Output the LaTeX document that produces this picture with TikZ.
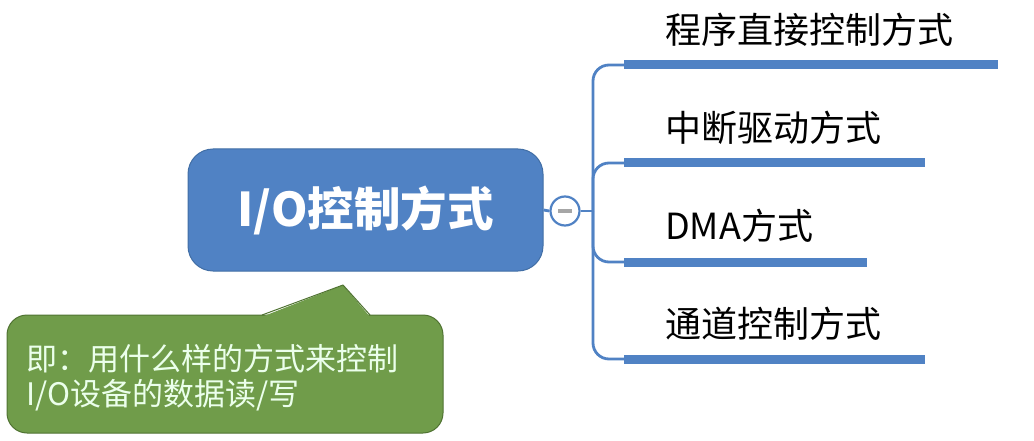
\documentclass[tikz,border=0pt]{standalone}
\usepackage{fontspec}
\newfontfamily\cjk{Noto Sans CJK SC}
\definecolor{nodeblue}{RGB}{80,130,196}
\definecolor{edgeblue}{RGB}{65,110,165}
\definecolor{barblue}{RGB}{80,130,196}
\definecolor{callgreen}{RGB}{112,156,74}
\definecolor{calledge}{RGB}{80,115,50}
\begin{document}
\begin{tikzpicture}[x=1pt,y=-1pt,
  central/.style={draw=edgeblue,line width=1pt,fill=nodeblue,rounded corners=25pt,
    minimum width=355pt,minimum height=122pt,inner sep=0pt,text=white,
    font=\cjk\bfseries\fontsize{46.5}{50}\selectfont},
  collapse/.style={circle,draw=barblue,line width=2.2pt,fill=white,minimum size=29pt,inner sep=0pt},
  branch/.style={draw=barblue,line width=2.8pt,rounded corners=16pt},
  bar/.style={draw=barblue,line width=9pt},
  label/.style={anchor=west,inner sep=0pt,text=black,font=\cjk\fontsize{36}{40}\selectfont},
  callbox/.style={draw=calledge,line width=1pt,fill=callgreen,rounded corners=20pt,
    minimum width=436pt,minimum height=118pt,inner sep=0pt},
  calltext/.style={anchor=west,align=left,inner sep=0pt,text=white!92!green,
    font=\cjk\fontsize{31}{35}\selectfont}
]
\useasboundingbox (0,0) rectangle (1034,441);
% central node
\node[central] (c) at (365.5,210) {I/O控制方式};
% collapse button
\node[collapse] (m) at (565,211) {};
\draw[gray!70,line width=3.2pt] ([xshift=-7pt]m.center) -- ([xshift=7pt]m.center);
\draw[draw=barblue,line width=2.8pt] (c.east) -- (m.west);
% trunk
\coordinate (t) at (593,211);
\draw[draw=barblue,line width=2.8pt] (m.east) -- (t);
% bar start/end coordinates
\coordinate (b1) at (624,65);  \coordinate (e1) at (998,65);
\coordinate (b2) at (624,163); \coordinate (e2) at (925,163);
\coordinate (b3) at (624,262); \coordinate (e3) at (867,262);
\coordinate (b4) at (624,359); \coordinate (e4) at (925,359);
\foreach \i in {1,2,3,4}{
  \draw[branch] (t) |- (b\i);
  \draw[bar] (b\i) -- (e\i);
}
% labels
\node[label] (l1) at (665,30) {程序直接控制方式};
\node[label] (l2) at (665,128) {中断驱动方式};
\node[label] (l3) at (665,226) {DMA方式};
\node[label] (l4) at (665,324) {通道控制方式};
% callout
\node[callbox] (cb) at (225,374) {};
\fill[callgreen] (262,316.8) -- (343,285) -- (370,316.8) -- cycle;
\draw[calledge,line width=1pt,line join=round] (262,315) -- (343,285) -- (370,315);
\node[calltext] (ct) at (26,378) {即：用什么样的方式来控制\\I/O设备的数据读/写};
\end{tikzpicture}
\end{document}
